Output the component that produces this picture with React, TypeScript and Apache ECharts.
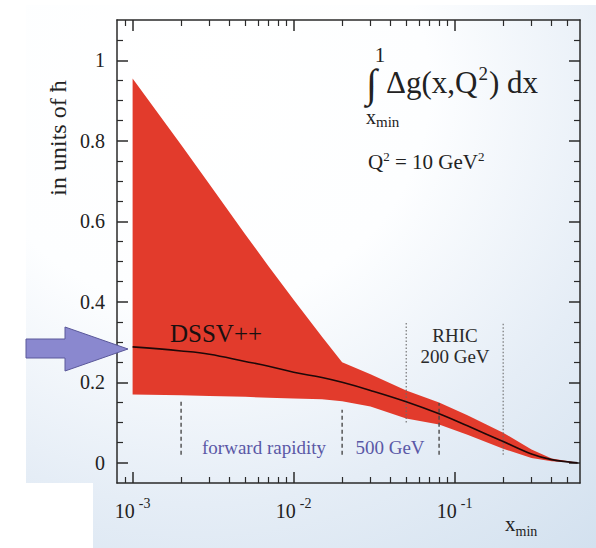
import React, { useEffect, useRef } from 'react';
import * as echarts from 'echarts';

// ---- data ----
const xGrid = [0.001, 0.002, 0.003, 0.005, 0.007, 0.01, 0.015, 0.02, 0.03, 0.05, 0.08, 0.12, 0.2, 0.3, 0.4, 0.58];
const upperBand = [0.955, 0.79, 0.692, 0.568, 0.488, 0.405, 0.313, 0.25, 0.22, 0.18, 0.15, 0.118, 0.075, 0.033, 0.011, 0];
const lowerBand = [0.17, 0.168, 0.166, 0.164, 0.162, 0.16, 0.158, 0.153, 0.14, 0.11, 0.095, 0.07, 0.035, 0.012, 0.004, 0];
const centralLine = [0.288, 0.278, 0.27, 0.252, 0.24, 0.225, 0.212, 0.2, 0.18, 0.152, 0.122, 0.092, 0.053, 0.022, 0.008, 0];

const dashedX = [0.002, 0.02, 0.08];
const dashedTop = [0.152, 0.132, 0.149];
const dashedBottom = [0.02, 0.02, 0.02];
const dottedX = [0.05, 0.2];
const dottedTop = [0.35, 0.35];
const dottedBottom = [0.1, 0.02];

const xMin = 0.0008;
const xMax = 0.6;
const yMin = -0.05;
const yMax = 1.1;
const xMajorTicks = [0.001, 0.01, 0.1];
const xMinorTicks = [0.0009, 0.002, 0.003, 0.004, 0.005, 0.006, 0.007, 0.008, 0.009, 0.02, 0.03, 0.04, 0.05, 0.06, 0.07, 0.08, 0.09, 0.2, 0.3, 0.4, 0.5];
const yMajorTicks = [0, 0.2, 0.4, 0.6, 0.8, 1];
const yMinorTicks = [0.05, 0.1, 0.15, 0.25, 0.3, 0.35, 0.45, 0.5, 0.55, 0.65, 0.7, 0.75, 0.85, 0.9, 0.95, 1.05];

const FONT = 'Liberation Serif';
const L = Math.log10;

export default function App() {
  const ref = useRef<HTMLDivElement>(null);
  useEffect(() => {
    if (!ref.current) return;
    const chart = echarts.init(ref.current, null, { renderer: 'svg' });
    const lineCol = '#2a2a2a';
    const xBase = {
      type: 'value',
      gridIndex: 0,
      min: L(xMin),
      max: L(xMax),
      splitLine: { show: false },
    };
    const yBase = {
      type: 'value',
      gridIndex: 0,
      min: yMin,
      max: yMax,
      splitLine: { show: false },
    };
    const xAxes = [
      {
        ...xBase,
        position: 'bottom',
        axisLine: { show: true, onZero: false, lineStyle: { color: lineCol, width: 1.5 } },
        axisTick: { show: true, inside: true, length: 11, customValues: xMajorTicks.map(L), lineStyle: { color: lineCol, width: 1.5 } },
        axisLabel: {
          show: true,
          customValues: xMajorTicks.map(L),
          margin: 13,
          formatter: (v: number) => `{n|10}{s|${Math.round(v)}}`,
          rich: {
            n: { fontFamily: FONT, fontSize: 20, color: '#222' },
            s: { fontFamily: FONT, fontSize: 14, color: '#222', padding: [0, 0, 16, 4] },
          },
        },
      },
      {
        ...xBase,
        position: 'bottom',
        axisLine: { show: false, onZero: false },
        axisTick: { show: true, inside: true, length: 6, customValues: xMinorTicks.map(L), lineStyle: { color: lineCol, width: 1.2 } },
        axisLabel: { show: false },
      },
      {
        ...xBase,
        position: 'top',
        axisLine: { show: true, onZero: false, lineStyle: { color: lineCol, width: 1.5 } },
        axisTick: { show: true, inside: true, length: 11, customValues: xMajorTicks.map(L), lineStyle: { color: lineCol, width: 1.5 } },
        axisLabel: { show: false },
      },
      {
        ...xBase,
        position: 'top',
        axisLine: { show: false, onZero: false },
        axisTick: { show: true, inside: true, length: 6, customValues: xMinorTicks.map(L), lineStyle: { color: lineCol, width: 1.2 } },
        axisLabel: { show: false },
      },
    ];
    const yAxes = [
      {
        ...yBase,
        position: 'left',
        axisLine: { show: true, onZero: false, lineStyle: { color: lineCol, width: 1.5 } },
        axisTick: { show: true, inside: true, length: 11, customValues: yMajorTicks, lineStyle: { color: lineCol, width: 1.5 } },
        axisLabel: {
          show: true,
          customValues: yMajorTicks,
          margin: 12,
          formatter: (v: number) => String(v),
          fontFamily: FONT,
          fontSize: 20,
          color: '#222',
        },
      },
      {
        ...yBase,
        position: 'left',
        axisLine: { show: false, onZero: false },
        axisTick: { show: true, inside: true, length: 6, customValues: yMinorTicks, lineStyle: { color: lineCol, width: 1.2 } },
        axisLabel: { show: false },
      },
      {
        ...yBase,
        position: 'right',
        axisLine: { show: true, onZero: false, lineStyle: { color: lineCol, width: 1.5 } },
        axisTick: { show: true, inside: true, length: 11, customValues: yMajorTicks, lineStyle: { color: lineCol, width: 1.5 } },
        axisLabel: { show: false },
      },
      {
        ...yBase,
        position: 'right',
        axisLine: { show: false, onZero: false },
        axisTick: { show: true, inside: true, length: 6, customValues: yMinorTicks, lineStyle: { color: lineCol, width: 1.2 } },
        axisLabel: { show: false },
      },
    ];

    const bandSeries = {
      type: 'custom',
      xAxisIndex: 0,
      yAxisIndex: 0,
      silent: true,
      z: 2,
      data: [[L(xGrid[0]), upperBand[0]]],
      renderItem: (_p: any, api: any) => {
        const pts: number[][] = [];
        xGrid.forEach((x, i) => pts.push(api.coord([L(x), upperBand[i]])));
        for (let i = xGrid.length - 1; i >= 0; i--) pts.push(api.coord([L(xGrid[i]), lowerBand[i]]));
        return { type: 'polygon', shape: { points: pts }, style: { fill: '#e23b2c', stroke: 'none' } };
      },
    };

    const centralSeries = {
      type: 'line',
      xAxisIndex: 0,
      yAxisIndex: 0,
      data: xGrid.map((x, i) => [L(x), centralLine[i]]),
      smooth: 0.4,
      showSymbol: false,
      silent: true,
      z: 4,
      lineStyle: { color: '#1e0808', width: 1.6 },
    };

    const dashedSeries = dashedX.map((x, i) => ({
      type: 'line',
      xAxisIndex: 0,
      yAxisIndex: 0,
      data: [[L(x), dashedBottom[i]], [L(x), dashedTop[i]]],
      showSymbol: false,
      silent: true,
      z: 3,
      lineStyle: { color: '#4a4a4a', width: 1.4, type: [4, 3] },
    }));
    const dottedSeries = dottedX.map((x, i) => ({
      type: 'line',
      xAxisIndex: 0,
      yAxisIndex: 0,
      data: [[L(x), dottedBottom[i]], [L(x), dottedTop[i]]],
      showSymbol: false,
      silent: true,
      z: 3,
      lineStyle: { color: '#6a6a6a', width: 1.1, type: [1.5, 2] },
    }));

    const textStyle = (extra: any) => ({ fontFamily: FONT, fill: '#222', ...extra });

    const option: any = {
      animation: false,
      grid: { left: 117, top: 20, width: 463, height: 463, containLabel: false, outerBoundsMode: 'none' },
      xAxis: xAxes,
      yAxis: yAxes,
      graphic: [
        {
          type: 'polygon',
          z: -10,
          silent: true,
          shape: { points: [[26, 5], [596, 5], [596, 548], [93, 548], [93, 483], [26, 483]] },
          style: {
            fill: {
              type: 'radial',
              x: 0.3,
              y: 0.15,
              r: 1.1,
              colorStops: [
                { offset: 0, color: '#ffffff' },
                { offset: 0.37, color: '#fdfeff' },
                { offset: 0.7, color: '#e5edf6' },
                { offset: 1, color: '#d3e1ef' },
              ],
            },
          },
        },
        {
          type: 'polygon',
          z: 50,
          silent: true,
          shape: { points: [[26, 339], [65, 339], [65, 327], [128, 349], [65, 371], [65, 358], [26, 358]] },
          style: { fill: '#8a88cf', stroke: '#5a589a', lineWidth: 1 },
        },
        {
          type: 'text', z: 50, silent: true, x: 58, y: 138, rotation: Math.PI / 2,
          style: textStyle({ text: 'in units of ħ', fontSize: 24, align: 'center', verticalAlign: 'middle' }),
        },
        {
          type: 'text', z: 50, silent: true, x: 170, y: 333,
          style: textStyle({ text: 'DSSV++', fontSize: 25, align: 'left', verticalAlign: 'middle', fill: '#1a1010' }),
        },
        {
          type: 'text', z: 50, silent: true, x: 264, y: 447,
          style: textStyle({ text: 'forward rapidity', fontSize: 19, align: 'center', verticalAlign: 'middle', fill: '#5a58a6' }),
        },
        {
          type: 'text', z: 50, silent: true, x: 390, y: 447,
          style: textStyle({ text: '500 GeV', fontSize: 19, align: 'center', verticalAlign: 'middle', fill: '#5a58a6' }),
        },
        {
          type: 'text', z: 50, silent: true, x: 455, y: 346,
          style: textStyle({ text: 'RHIC\n200 GeV', fontSize: 19, lineHeight: 21, align: 'center', verticalAlign: 'middle', fill: '#2a2a2a' }),
        },
        {
          type: 'text', z: 50, silent: true, x: 505, y: 524,
          style: textStyle({
            text: '{a|x}{b|min}', align: 'left', verticalAlign: 'middle',
            rich: {
              a: { fontFamily: FONT, fontSize: 21, fill: '#222' },
              b: { fontFamily: FONT, fontSize: 14, fill: '#222', padding: [14, 0, 0, 0] },
            },
          }),
        },
        {
          type: 'text', z: 50, silent: true, x: 366, y: 83,
          style: textStyle({ text: '∫', fontSize: 40, lineHeight: 30, align: 'left', verticalAlign: 'middle' }),
        },
        {
          type: 'text', z: 50, silent: true, x: 380, y: 55,
          style: textStyle({ text: '1', fontSize: 21, lineHeight: 16, align: 'center', verticalAlign: 'middle' }),
        },
        {
          type: 'text', z: 50, silent: true, x: 366, y: 117,
          style: textStyle({
            text: '{a|x}{b|min}', align: 'left', verticalAlign: 'middle',
            rich: {
              a: { fontFamily: FONT, fontSize: 20, fill: '#222', lineHeight: 16 },
              b: { fontFamily: FONT, fontSize: 15, fill: '#222', lineHeight: 12, padding: [10, 0, 0, 0] },
            },
          }),
        },
        {
          type: 'text', z: 50, silent: true, x: 386, y: 82,
          style: textStyle({
            text: '{a|Δg(x,Q}{s|2}{a|) dx}', align: 'left', verticalAlign: 'middle',
            rich: {
              a: { fontFamily: FONT, fontSize: 31, fill: '#222' },
              s: { fontFamily: FONT, fontSize: 19, fill: '#222', padding: [0, 1, 18, 1] },
            },
          }),
        },
        {
          type: 'text', z: 50, silent: true, x: 368, y: 162,
          style: textStyle({
            text: '{a|Q}{s|2}{a| = 10 GeV}{s|2}', align: 'left', verticalAlign: 'middle',
            rich: {
              a: { fontFamily: FONT, fontSize: 21, fill: '#222' },
              s: { fontFamily: FONT, fontSize: 13, fill: '#222', padding: [0, 0, 12, 0] },
            },
          }),
        },
      ],
      series: [bandSeries, centralSeries, ...dashedSeries, ...dottedSeries],
    };
    chart.setOption(option);
    return () => chart.dispose();
  }, []);
  return (
    <div
      ref={ref}
      style={{ position: 'fixed', left: 0, top: 0, width: 596, height: 548, background: '#ffffff' }}
    />
  );
}
